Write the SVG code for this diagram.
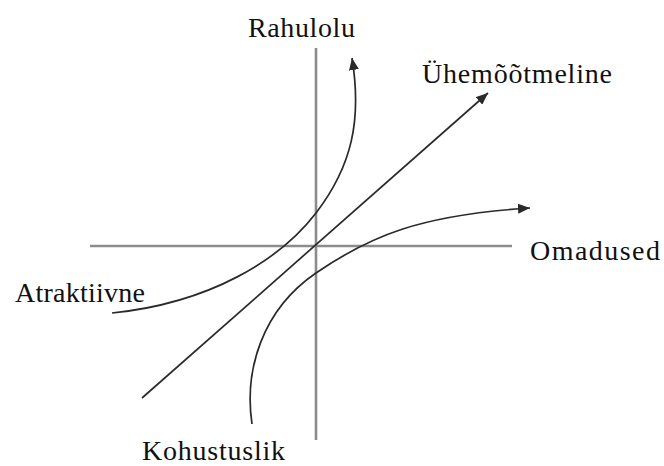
<svg xmlns="http://www.w3.org/2000/svg" width="664" height="466" viewBox="0 0 664 466">
<style>
.axis{stroke:#8c8c8c;stroke-width:2.6;fill:none}
.curve{stroke:#2a2a2a;stroke-width:1.7;fill:none;marker-end:url(#ah)}
.lbl{font-family:"Liberation Serif","Times New Roman",serif;font-size:28px;fill:#111}
</style>
<defs>
<marker id="ah" markerUnits="userSpaceOnUse" markerWidth="14" markerHeight="10" refX="12" refY="5" orient="auto">
<path d="M0,0 L12,5 L0,10 Z" fill="#2a2a2a"/>
</marker>
</defs>
<g id="axes">
<line class="axis" x1="316" y1="48" x2="316" y2="440"/>
<line class="axis" x1="90" y1="246" x2="512" y2="246"/>
</g>
<g id="connectors">
<line class="curve" x1="142" y1="398" x2="488" y2="93"/>
<path class="curve" d="M112,313 C210,303 280,260 316,213 S362,120 352,58"/>
<path class="curve" d="M252,424 C244,370 262,310 316,273 S420,215 530,208"/>
</g>
<g id="rahulolu"><text class="lbl" x="248" y="37" textLength="107">Rahulolu</text></g>
<g id="uhemootmeline"><text class="lbl" x="422" y="83" textLength="190">Ühemõõtmeline</text></g>
<g id="omadused"><text class="lbl" x="530" y="260" textLength="130">Omadused</text></g>
<g id="atraktiivne"><text class="lbl" x="15" y="302" textLength="130">Atraktiivne</text></g>
<g id="kohustuslik"><text class="lbl" x="142" y="460" textLength="143">Kohustuslik</text></g>
</svg>
